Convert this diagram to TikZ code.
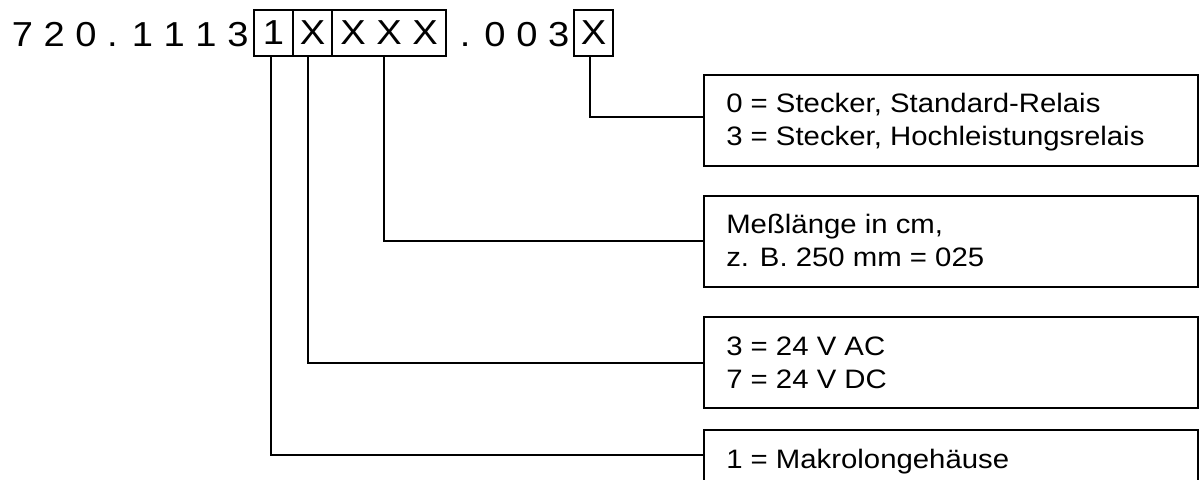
\documentclass[tikz,border=0pt]{standalone}
\usepackage{fontspec}
\setmainfont[FakeStretch=1.1]{Liberation Sans}
\usetikzlibrary{calc}
\def\px{0.75pt}
\tikzset{
  digitbox/.style={draw, line width=1.5pt, inner sep=0pt, minimum height=46*\px,
    font=\fontsize{26pt}{30pt}\selectfont, text height=18.7pt, text depth=0pt},
  headtxt/.style={inner sep=0pt, anchor=base west, font=\fontsize{26pt}{30pt}\selectfont},
  lblbox/.style={draw, line width=1.5pt, anchor=north west, inner sep=0pt,
    minimum width=494*\px, minimum height=91*\px},
  lbltxt/.style={inner sep=0pt, anchor=base west, font=\fontsize{20pt}{24pt}\selectfont},
  conn/.style={line width=1.5pt}
}
\begin{document}
\begin{tikzpicture}[x=0.75pt, y=-0.75pt]
\useasboundingbox (0,0) rectangle (1199,479);
\clip (0,0) rectangle (1199,479);
% header code
\node[headtxt] (h1) at (11.5,46) {7 2 0 . 1 1 1 3};
\node[digitbox, minimum width=39*\px] (b1) at (273.5,32.5) {1};
\node[digitbox, minimum width=39*\px] (b2) at (312.5,32.5) {X};
\node[digitbox, minimum width=114*\px] (b3) at (389,32.5) {X X X};
\node[headtxt] (h2) at (459.5,46) {. 0 0 3};
\node[digitbox, minimum width=39*\px] (b4) at (593.5,32.5) {X};
% label boxes
\node[lblbox] (A) at (703,74) {};
\node[lbltxt] (a1) at (726,112) {0 = Stecker, Standard-Relais};
\node[lbltxt] (a2) at (726,145) {3 = Stecker, Hochleistungsrelais};
\node[lblbox] (B) at (703,195) {};
\node[lbltxt] (bb1) at (726,233) {Meßlänge in cm,};
\node[lbltxt] (bb2) at (726,266) {z. B. 250 mm = 025};
\node[lblbox] (C) at (703,316) {};
\node[lbltxt] (c1) at (726,355) {3 = 24 V AC};
\node[lbltxt] (c2) at (726,388) {7 = 24 V DC};
\node[lblbox] (D) at (703,429) {};
\node[lbltxt] (d1) at (726,468) {1 = Makrolongehäuse};
% connectors
\draw[conn] (b1.south -| 271,0) |- (D.west |- 0,455);
\draw[conn] (b2.south -| 308,0) |- (C.west |- 0,363);
\draw[conn] (b3.south -| 384,0) |- (B.west |- 0,241);
\draw[conn] (b4.south -| 590,0) |- (A.west |- 0,117);
\end{tikzpicture}
\end{document}
